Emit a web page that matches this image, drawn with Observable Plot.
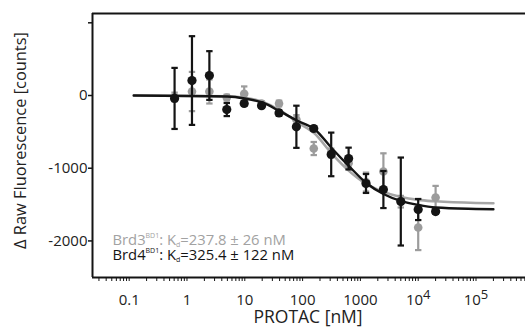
<!DOCTYPE html>
<html>
<head>
<meta charset="utf-8">
<script src="https://cdn.jsdelivr.net/npm/d3@7"></script>
<script src="https://cdn.jsdelivr.net/npm/@observablehq/plot@0.6"></script>
<style>
  html, body { margin: 0; padding: 0; background: #fff; }
  #chart svg { display: block; }
</style>
</head>
<body>
<div id="chart"></div>
<script>
// Measured concentrations (nM)
const conc = [0.61, 1.22, 2.44, 4.88, 9.77, 19.5, 39.1, 78.1, 156, 312.5, 625, 1250, 2500, 5000, 10000, 20000];
// Brd4 BD1 (black)
const brd4 = [-40, 206, 275, -193, -110, -140, -240, -430, -454, -810, -867, -1210, -1293, -1458, -1568, -1596];
const brd4Err = [420, 610, 335, 90, 30, 30, 40, 290, 30, 300, 150, 130, 255, 605, 145, 30];
// Brd3 BD1 (grey)
const brd3 = [-20, 55, 55, -28, 25, -110, -110, -330, -729, -790, -930, -1190, -1045, -1460, -1816, -1403];
const brd3Err = [60, 270, 165, 40, 100, 30, 40, 60, 90, 60, 60, 130, 250, 80, 310, 160];
// Fitted curves
const fitConc = [0.12, 5, 10, 20, 40, 80, 160, 320, 640, 1250, 2500, 5000, 10000, 20000, 100000, 200000];
const brd4Fit = [0, -14, -41, -96, -215, -345, -460, -725, -975, -1200, -1355, -1450, -1505, -1540, -1560, -1565];
const brd3Fit = [0, -10, -30, -85, -200, -365, -520, -800, -1040, -1215, -1325, -1395, -1435, -1455, -1478, -1482];
// Axis ticks
const xTickLabels = [0.1, 1, 10, 100, 1000, 10000, 100000];
const yTicks = [1000, 0, -1000, -2000];
const xDomain = [0.0232, 718000];
const yDomain = [-2503, 1128];
// Annotations
const annotations = [
  {x: 0.0514, y: -2050, name: "Brd3", sup: "BD1", kd: "=237.8 ± 26 nM", color: "#a2a2a2"},
  {x: 0.0514, y: -2256, name: "Brd4", sup: "BD1", kd: "=325.4 ± 122 nM", color: "#141414"}
];

const GREY = "#9c9c9c";
const BLACK = "#141414";

const series = (vals, errs) => conc.map((c, i) => ({c, v: vals[i], e: errs[i]}));
const s4 = series(brd4, brd4Err);
const s3 = series(brd3, brd3Err);
const f4 = fitConc.map((c, i) => ({c, v: brd4Fit[i]}));
const f3 = fitConc.map((c, i) => ({c, v: brd3Fit[i]}));

const cap = {draw(ctx, size) { const w = Math.sqrt(size / Math.PI); ctx.moveTo(-w, 0); ctx.lineTo(w, 0); }};

const minorTicks = [];
for (let p = -2; p <= 5; p++) for (let k = 1; k <= 9; k++) {
  const v = k * Math.pow(10, p);
  if (v >= xDomain[0] && v <= xDomain[1]) minorTicks.push(v);
}

const errMarks = (s, color) => [
  Plot.ruleX(s, {x: "c", y1: d => d.v - d.e, y2: d => d.v + d.e, stroke: color, strokeWidth: 2.2}),
  Plot.dot(s, {x: "c", y: d => d.v + d.e, symbol: cap, r: 3.2, stroke: color, strokeWidth: 2.2, fill: "none"}),
  Plot.dot(s, {x: "c", y: d => d.v - d.e, symbol: cap, r: 3.2, stroke: color, strokeWidth: 2.2, fill: "none"})
];

const plot = Plot.plot({
  width: 525,
  height: 331,
  marginLeft: 92,
  marginTop: 13,
  marginBottom: 54,
  marginRight: 0,
  style: {fontFamily: "'Open Sans', sans-serif", fontSize: "15px", color: "#222", background: "#fff"},
  x: {type: "log", domain: xDomain},
  y: {domain: yDomain},
  marks: [
    Plot.line(f3, {x: "c", y: "v", stroke: "#a6a6a6", strokeWidth: 2.6, curve: "monotone-x"}),
    ...errMarks(s3, GREY),
    Plot.dot(s3, {x: "c", y: "v", r: 4.3, fill: GREY}),
    Plot.line(f4, {x: "c", y: "v", stroke: BLACK, strokeWidth: 2.4, curve: "monotone-x"}),
    ...errMarks(s4, BLACK),
    Plot.dot(s4, {x: "c", y: "v", r: 4.6, fill: BLACK}),
    // frame
    Plot.ruleX([xDomain[0]], {stroke: BLACK, strokeWidth: 2}),
    Plot.ruleY([yDomain[0]], {stroke: BLACK, strokeWidth: 2}),
    Plot.ruleY([yDomain[1]], {stroke: BLACK, strokeWidth: 2}),
    // axes
    Plot.axisY({ticks: yTicks, tickSize: 4, tickPadding: 1, tickFormat: d => d === 1000 ? "" : String(d), fontSize: 15, stroke: BLACK, strokeWidth: 1.5, label: null}),
    Plot.axisX({ticks: minorTicks, tickSize: 4, tickFormat: null, text: null, stroke: BLACK, strokeWidth: 1, label: null}),
    Plot.axisX({ticks: xTickLabels, tickSize: 0, tickPadding: 17, tickFormat: d => d >= 10000 ? "10^" + Math.round(Math.log10(d)) : String(d), fontSize: 15, label: null}),
    Plot.text(["Δ Raw Fluorescence [counts]"], {frameAnchor: "left", textAnchor: "middle", dx: -72, dy: -5, rotate: -90, fontSize: 16.4, fill: "#222"}),
    Plot.text(["PROTAC [nM]"], {frameAnchor: "bottom", dx: -1, dy: 45, fontSize: 17.5, fill: "#222"}),
    Plot.text(annotations, {x: "x", y: "y", text: d => "ANN|" + d.name, textAnchor: "start", lineAnchor: "bottom", fontSize: 14.8, fill: "color"})
  ]
});

const svg = d3.select(plot);
// remove empty tick label texts
svg.selectAll("text").filter(function() { return d3.select(this).text() === ""; }).remove();
// superscript exponents on x tick labels; rich annotation text
svg.selectAll("text").each(function() {
  const t = d3.select(this);
  const s = t.text();
  if (/^10\^\d$/.test(s)) {
    const e = s.split("^")[1];
    t.text("");
    t.append("tspan").text("10");
    t.append("tspan").attr("dy", "-0.5em").attr("font-size", 13).text(e);
  } else if (s.startsWith("ANN|")) {
    const a = annotations.find(d => d.name === s.slice(4));
    t.text("");
    t.append("tspan").text(a.name);
    t.append("tspan").attr("dy", -6.5).attr("font-size", 7).text(a.sup);
    t.append("tspan").attr("dy", 6.5).text(": K");
    t.append("tspan").attr("dy", 2.5).attr("font-size", 7).text("d");
    t.append("tspan").attr("dy", -2.5).text(a.kd);
  }
});

document.getElementById("chart").appendChild(plot);
</script>
</body>
</html>
